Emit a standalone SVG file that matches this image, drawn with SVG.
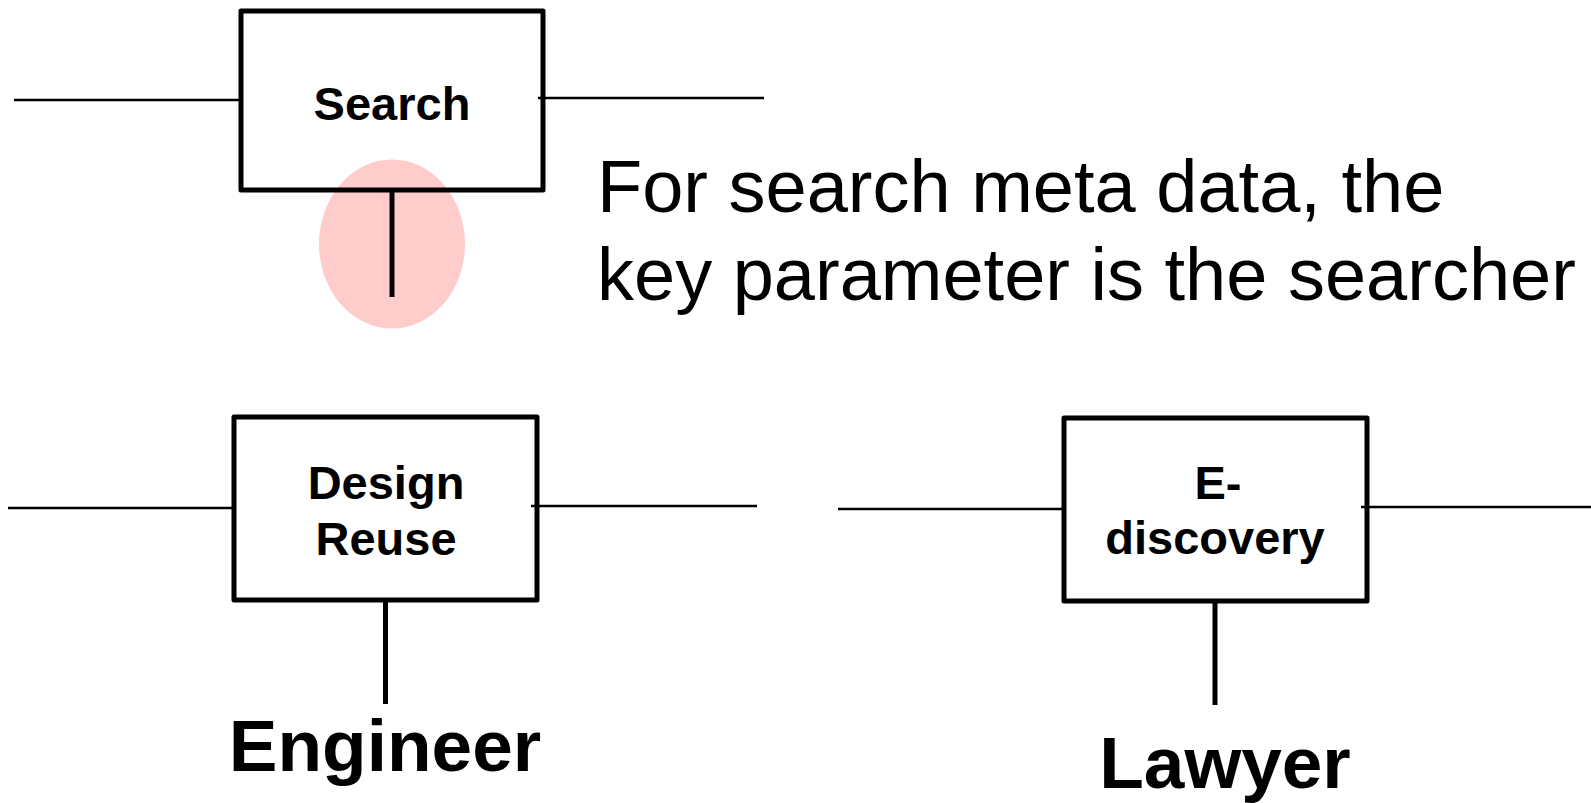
<svg xmlns="http://www.w3.org/2000/svg" width="1591" height="803" viewBox="0 0 1591 803">
<style>
.box{fill:none;stroke:#000;stroke-width:5;stroke-linejoin:round}
.wire{stroke:#000;stroke-width:2.5;fill:none}
.stem{stroke:#000;stroke-width:5;fill:none}
.lbl{font-family:"Liberation Sans",Arial,sans-serif;font-weight:bold;font-size:47px;text-anchor:middle;fill:#000}
.role{font-family:"Liberation Sans",Arial,sans-serif;font-weight:bold;font-size:73px;text-anchor:middle;fill:#000}
.note{font-family:"Liberation Sans",Arial,sans-serif;font-size:74px;fill:#000}
</style>
<rect width="1591" height="803" fill="#fff"/>
<g id="highlight">
<ellipse cx="392" cy="244" rx="73" ry="84.5" fill="#ffcccc"/>
</g>
<g id="connectors">
<line class="wire" x1="14" y1="100" x2="241" y2="100"/>
<line class="wire" x1="538" y1="98" x2="764" y2="98"/>
<line class="wire" x1="8" y1="508" x2="234" y2="508"/>
<line class="wire" x1="531" y1="506" x2="757" y2="506"/>
<line class="wire" x1="838" y1="509" x2="1064" y2="509"/>
<line class="wire" x1="1361" y1="507" x2="1591" y2="507"/>
<line class="stem" x1="392" y1="190" x2="392" y2="297"/>
<line class="stem" x1="385.5" y1="600" x2="385.5" y2="704"/>
<line class="stem" x1="1215" y1="601" x2="1215" y2="705"/>
</g>
<g id="search">
<rect class="box" x="241" y="11" width="302" height="179"/>
<text class="lbl" x="392" y="120">Search</text>
</g>
<g id="note">
<text class="note" x="597" y="212">For search meta data, the</text>
<text class="note" x="597" y="300">key parameter is the searcher</text>
</g>
<g id="design-reuse">
<rect class="box" x="234" y="417" width="303" height="183"/>
<text class="lbl" x="386" y="499">Design</text>
<text class="lbl" x="386" y="555">Reuse</text>
</g>
<g id="engineer">
<text class="role" x="385" y="771">Engineer</text>
</g>
<g id="e-discovery">
<rect class="box" x="1064" y="418" width="303" height="183"/>
<text class="lbl" x="1218" y="499">E-</text>
<text class="lbl" x="1215" y="554">discovery</text>
</g>
<g id="lawyer">
<text class="role" x="1225" y="788">Lawyer</text>
</g>
</svg>
